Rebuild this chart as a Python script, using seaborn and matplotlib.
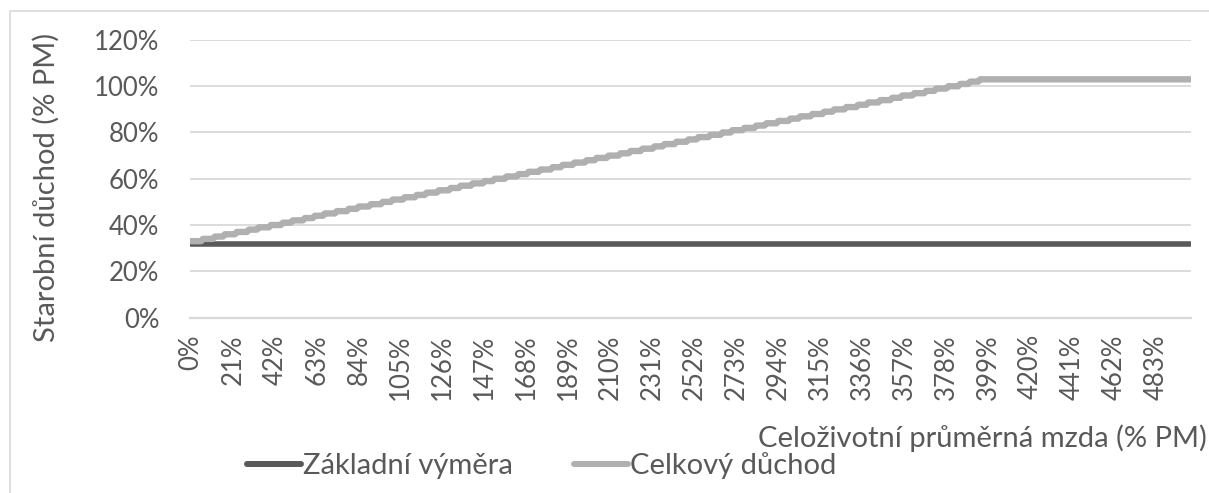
import numpy as np
import pandas as pd
import matplotlib
matplotlib.use("Agg")
import matplotlib.pyplot as plt
import matplotlib.patches as mpatches
from matplotlib.lines import Line2D
import seaborn as sns

# ---- data (values in % of average wage, PM) ----
categories_pct = list(range(0, 501))          # x categories: 0% .. 500%
tick_every = 21                                # labelled every 21st category
base_levels = [32]                             # Základní výměra (constant)
base_runs = [501]
total_levels = [33, 34, 35, 36, 37, 38, 39, 40, 41, 42, 43, 44, 45, 46, 47, 48,
                49, 50, 51, 52, 53, 54, 55, 56, 57, 58, 59, 60, 61, 62, 63, 64,
                65, 66, 67, 68, 69, 70, 71, 72, 73, 74, 75, 76, 77, 78, 79, 80,
                81, 82, 83, 84, 85, 86, 87, 88, 89, 90, 91, 92, 93, 94, 95, 96,
                97, 98, 99, 100, 101, 102, 103]
total_runs = [6, 6, 5, 6, 6, 5, 6, 6, 5, 6, 5, 5, 6, 6, 5, 6, 6, 5, 6, 6,
              5, 6, 6, 5, 6, 6, 5, 6, 6, 5, 6, 6, 5, 6, 6, 5, 6, 6, 5, 6,
              6, 5, 6, 6, 5, 6, 6, 5, 6, 6, 5, 6, 6, 5, 6, 6, 5, 6, 6, 5,
              6, 6, 5, 6, 6, 5, 6, 6, 5, 5, 106]
series_names = ["Základní výměra", "Celkový důchod"]
y_ticks = [0, 20, 40, 60, 80, 100, 120]

base_values = np.repeat(base_levels, base_runs)
total_values = np.repeat(total_levels, total_runs)

df = pd.DataFrame({
    "x": categories_pct * 2,
    "y": np.concatenate([base_values, total_values]),
    "series": [series_names[0]] * len(categories_pct) + [series_names[1]] * len(categories_pct),
})

sns.set_theme(style="white")
plt.rcParams["font.family"] = ["Lato", "DejaVu Sans"]

W, H = 1209, 493
fig = plt.figure(figsize=(W / 100, H / 100), dpi=100)
ax = fig.add_axes([190 / W, (H - 317.5) / H, 1001 / W, 277.5 / H])

txt = "#595959"
grid = "#d9d9d9"
palette = {series_names[0]: "#595959", series_names[1]: "#b0b0b0"}

for yv in y_ticks[1:]:
    ax.axhline(yv, color=grid, lw=1.3, zorder=0)

sns.lineplot(data=df, x="x", y="y", hue="series", palette=palette,
             linewidth=4.3, ax=ax, legend=False)
for ln, lw in zip(ax.get_lines()[-2:], [4.0, 4.6]):
    ln.set_solid_capstyle("round")
    ln.set_linewidth(lw)

ax.set_xlim(-0.5, 500.5)
ax.set_ylim(0, 120)
ax.set_yticks(y_ticks)
ax.set_yticklabels([f"{v}%" for v in y_ticks], color=txt, fontsize=18.5)

ax.set_xticks(categories_pct)
ax.set_xticklabels([f"{v}%" if v % tick_every == 0 else "" for v in categories_pct],
                   rotation=90, color=txt, fontsize=18.5)
ax.tick_params(axis="x", direction="out", length=8, width=1.6, color=grid, pad=4)
ax.tick_params(axis="y", length=0, pad=22)

for s in ["top", "right", "left"]:
    ax.spines[s].set_visible(False)
ax.spines["bottom"].set_color(grid)
ax.spines["bottom"].set_linewidth(1.6)

ax.set_xlabel("")
ax.set_ylabel("")
fig.text(46 / W, 1 - 187 / H, "Starobní důchod (% PM)", rotation=90,
         ha="center", va="center", color=txt, fontsize=21)
fig.text(1207 / W, 1 - 438 / H, "Celoživotní průměrná mzda (% PM)",
         ha="right", va="center", color=txt, fontsize=21)

handles = [Line2D([0], [0], color=palette[n], lw=4.3, solid_capstyle="round") for n in series_names]
fig.legend(handles, series_names, loc="center left", bbox_to_anchor=(247 / W, 1 - 466 / H),
           ncol=2, frameon=False, fontsize=21, labelcolor=txt, handlelength=1.85,
           handletextpad=0.07, columnspacing=2.1, borderaxespad=0, borderpad=0)

fig.patches.append(mpatches.Rectangle((9.5 / W, -0.1), 1.2, (H - 11) / H + 0.1,
                                      transform=fig.transFigure, fill=False,
                                      edgecolor=grid, lw=1.2))

fig.savefig("out.png", dpi=100)
